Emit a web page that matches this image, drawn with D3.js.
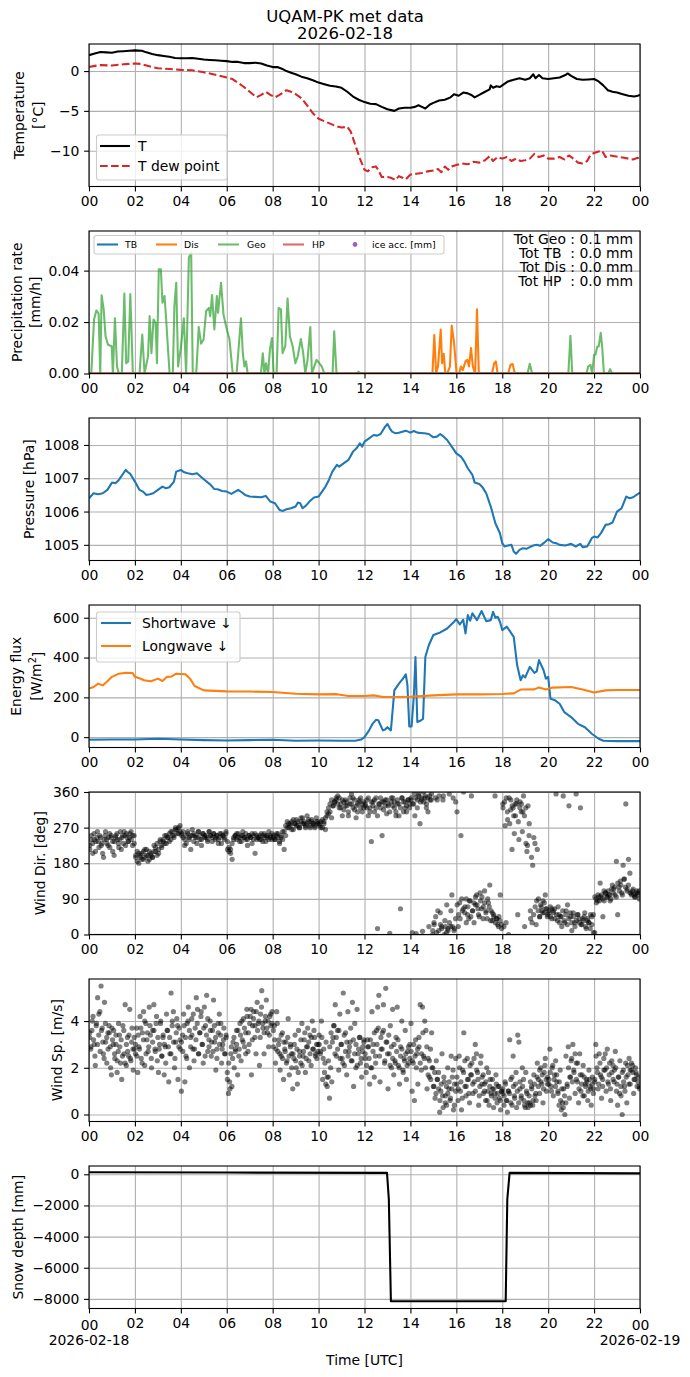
<!DOCTYPE html>
<html>
<head>
<meta charset="utf-8">
<script src="https://cdn.jsdelivr.net/npm/d3@7"></script>
<style>
body { margin: 0; background: #fff; }
text { font-family: "DejaVu Sans", sans-serif; fill: #000; }
.grid line { stroke: #b0b0b0; stroke-width: 1.1px; }
.grid path { display: none; }
.axis path { display: none; }
.axis line { stroke: #000; stroke-width: 1.1px; }
.axis text { font-family: "DejaVu Sans", sans-serif; font-size: 13.9px; fill: #000; }
</style>
</head>
<body>
<svg id="chart"></svg>
<script>
// Width and height of the figure
var width = 690, height = 1377;
var left = 89, right = 640, panelH = 142.5;
var panelTop = [44, 231, 418, 605, 792, 979, 1166];

// ---- data (hour of day, value) ----
var tempAir = [[0,2.0],[0.25,2.2],[0.5,2.4],[0.75,2.35],[1,2.3],[1.25,2.45],[1.5,2.5],[1.75,2.55],[2,2.6],[2.3,2.55],[2.5,2.35],[2.75,2.15],[3,2.0],[3.25,1.9],[3.5,1.8],[3.75,1.65],[4,1.6],[4.25,1.6],[4.5,1.65],[4.75,1.55],[5,1.45],[5.25,1.4],[5.5,1.35],[5.75,1.3],[6,1.25],[6.25,1.15],[6.5,1.15],[6.75,1.0],[7,1.0],[7.25,1.05],[7.5,0.95],[7.75,0.7],[8,0.5],[8.2,0.5],[8.4,0.3],[8.6,0.0],[8.8,-0.2],[9,-0.4],[9.25,-0.7],[9.5,-0.9],[9.75,-1.15],[10,-1.45],[10.25,-1.65],[10.5,-1.85],[10.75,-1.95],[11,-2.1],[11.25,-2.6],[11.5,-3.2],[11.75,-3.6],[12,-3.9],[12.25,-4.1],[12.5,-4.15],[12.75,-4.5],[13,-4.8],[13.3,-5.0],[13.5,-4.7],[13.75,-4.6],[14,-4.6],[14.2,-4.5],[14.35,-4.3],[14.5,-4.5],[14.65,-4.7],[14.85,-4.2],[15,-4.0],[15.25,-3.7],[15.5,-3.6],[15.75,-3.3],[15.9,-2.9],[16.1,-3.1],[16.3,-2.7],[16.5,-2.8],[16.65,-3.0],[16.8,-3.3],[17,-3.0],[17.25,-2.6],[17.45,-2.3],[17.5,-1.8],[17.6,-2.1],[17.75,-1.9],[17.9,-2.0],[18,-1.8],[18.25,-1.3],[18.5,-1.1],[18.75,-0.9],[19,-1.1],[19.2,-0.9],[19.35,-0.4],[19.45,-0.9],[19.6,-0.5],[19.75,-0.9],[20,-1.0],[20.25,-0.9],[20.5,-0.8],[20.75,-0.5],[20.85,-0.3],[21,-0.6],[21.25,-1.0],[21.5,-1.1],[21.75,-1.05],[22,-1.0],[22.2,-1.3],[22.4,-1.8],[22.6,-2.4],[22.8,-2.6],[23,-2.7],[23.25,-2.9],[23.5,-3.1],[23.75,-3.2],[23.9,-3.1],[24,-3.0]];

var tempDew = [[0,0.5],[0.25,0.65],[0.5,0.75],[1,0.7],[1.5,0.85],[2,0.95],[2.25,0.9],[2.5,0.7],[2.75,0.5],[3,0.35],[3.5,0.25],[4,0.15],[4.5,0.1],[5,-0.15],[5.5,-0.45],[6,-0.8],[6.25,-1.0],[6.5,-1.5],[6.75,-2.0],[7,-2.6],[7.3,-3.3],[7.5,-3.0],[7.7,-2.6],[7.9,-3.0],[8.1,-3.3],[8.3,-3.0],[8.6,-2.4],[8.8,-2.6],[9,-2.9],[9.25,-3.4],[9.5,-4.3],[9.75,-5.3],[10,-6.0],[10.25,-6.3],[10.5,-6.6],[10.75,-6.9],[11,-7.1],[11.25,-7.0],[11.4,-7.6],[11.6,-9.3],[11.8,-11.0],[12,-12.4],[12.15,-12.6],[12.3,-12.1],[12.5,-12.0],[12.6,-12.4],[12.75,-13.3],[13,-13.3],[13.15,-13.4],[13.35,-13.7],[13.5,-13.2],[13.65,-13.4],[13.8,-13.6],[14,-13.0],[14.25,-12.9],[14.5,-12.8],[14.75,-12.6],[15,-12.5],[15.2,-12.3],[15.35,-12.7],[15.5,-12.0],[15.65,-12.4],[15.8,-12.0],[16,-11.8],[16.25,-11.6],[16.5,-11.7],[16.75,-11.4],[17,-11.5],[17.25,-11.2],[17.45,-10.7],[17.6,-11.3],[17.8,-10.8],[18,-11.0],[18.2,-10.8],[18.4,-11.3],[18.6,-11.0],[18.8,-11.3],[19,-11.2],[19.2,-11.0],[19.4,-10.4],[19.6,-10.8],[19.8,-10.6],[20,-11.0],[20.25,-11.0],[20.5,-10.8],[20.7,-11.1],[20.9,-10.6],[21.1,-11.0],[21.3,-11.5],[21.5,-11.6],[21.7,-11.3],[21.85,-10.5],[22,-10.3],[22.2,-10.1],[22.35,-10.0],[22.5,-10.8],[22.7,-10.6],[22.9,-10.7],[23.1,-10.8],[23.3,-10.9],[23.5,-11.0],[23.7,-11.1],[23.9,-10.9],[24,-11.2]];

var precipTB = [[0,0],[24,0]];
var precipHP = [[0,0],[24,0]];
var precipDis = [[0,0],[14.96,0],[15.04,0.015],[15.12,0],[15.2,0.0027],[15.32,0.0171],[15.38,0.004],[15.45,0.0077],[15.52,0],[15.6,0],[15.72,0.0027],[15.8,0.0186],[15.9,0.012],[16.01,0],[16.12,0],[16.2,0.0027],[16.28,0.0013],[16.4,0.0047],[16.48,0.0053],[16.55,0.0027],[16.64,0.0099],[16.72,0.0027],[16.82,0],[16.9,0.025],[16.98,0],[17.55,0],[17.65,0.004],[17.72,0.0047],[17.8,0],[18.26,0],[18.36,0.0034],[18.45,0.0037],[18.55,0],[24,0]];
var precipGeo = [[0,0],[0.1,0],[0.22,0.021],[0.32,0.0245],[0.42,0.0233],[0.49,0],[0.55,0.0304],[0.64,0.0249],[0.72,0.0145],[0.83,0.0112],[0.99,0.0106],[1.04,0],[1.13,0.0215],[1.22,0.0027],[1.3,0],[1.43,0],[1.54,0.0311],[1.62,0.004],[1.71,0.0047],[1.8,0.0309],[1.91,0],[2.2,0],[2.32,0.0151],[2.42,0],[2.57,0.0066],[2.64,0.0223],[2.72,0.0079],[2.81,0.021],[2.9,0.0197],[2.96,0.004],[3.04,0.0405],[3.13,0.0405],[3.2,0.0275],[3.29,0.0301],[3.36,0.021],[3.51,0],[3.65,0],[3.72,0.0262],[3.8,0.0353],[3.88,0.0027],[4.01,0.0106],[4.13,0.0215],[4.23,0],[4.35,0.0451],[4.45,0.047],[4.52,0],[4.67,0],[4.78,0.0181],[4.88,0.0116],[4.99,0.0132],[5.1,0.0242],[5.22,0.0255],[5.28,0.0223],[5.36,0.0305],[5.46,0.0171],[5.57,0.0301],[5.62,0.0236],[5.75,0.0353],[5.86,0.0229],[5.97,0.0184],[6.12,0.0132],[6.26,0],[6.43,0],[6.62,0.0215],[6.7,0.0079],[6.77,0.0027],[6.84,0.0047],[6.91,0],[7.49,0],[7.57,0.0079],[7.64,0],[7.71,0.004],[7.8,0],[7.88,0.0093],[7.97,0.0138],[8.04,0],[8.17,0],[8.26,0.0255],[8.36,0.0249],[8.43,0.0079],[8.55,0.0106],[8.65,0.0291],[8.75,0.0145],[8.87,0.0106],[8.99,0.004],[9.09,0.0066],[9.23,0.0134],[9.33,0.0079],[9.42,0],[9.52,0.0053],[9.64,0.0181],[9.71,0],[9.81,0.0027],[9.91,0.0053],[10.03,0.004],[10.14,0.0027],[10.25,0],[10.61,0],[10.68,0.0164],[10.78,0],[11.66,0],[11.74,0.0007],[11.82,0],[19.1,0],[19.2,0.0038],[19.3,0],[20.88,0],[20.97,0.0147],[21.05,0],[21.67,0],[21.74,0.0027],[21.84,0.0034],[21.92,0],[22.0,0.0073],[22.06,0.0073],[22.14,0.0105],[22.2,0.0105],[22.29,0.0158],[22.35,0.0105],[22.43,0],[22.62,0],[22.7,0.0017],[22.78,0],[24,0]];
var precipTotals = ["Tot Geo : 0.1 mm", "Tot TB  : 0.0 mm", "Tot Dis : 0.0 mm", "Tot HP  : 0.0 mm"];

var pressure = [[0,1006.4],[0.2,1006.55],[0.4,1006.52],[0.6,1006.55],[0.8,1006.65],[1,1006.87],[1.15,1006.85],[1.3,1006.95],[1.5,1007.15],[1.6,1007.25],[1.7,1007.18],[1.8,1007.13],[2,1006.9],[2.2,1006.65],[2.35,1006.6],[2.5,1006.5],[2.65,1006.52],[2.8,1006.55],[3,1006.65],[3.2,1006.75],[3.35,1006.7],[3.5,1006.73],[3.7,1006.9],[3.8,1007.2],[4,1007.25],[4.15,1007.18],[4.3,1007.15],[4.5,1007.12],[4.7,1007.15],[5,1006.97],[5.3,1006.8],[5.45,1006.68],[5.6,1006.67],[5.8,1006.62],[6,1006.6],[6.2,1006.53],[6.5,1006.65],[6.65,1006.58],[6.8,1006.5],[7,1006.45],[7.25,1006.44],[7.5,1006.43],[7.7,1006.47],[7.9,1006.3],[8.1,1006.25],[8.3,1006.05],[8.45,1006.02],[8.6,1006.07],[8.8,1006.1],[9,1006.15],[9.1,1006.27],[9.2,1006.25],[9.3,1006.1],[9.45,1006.18],[9.6,1006.3],[9.8,1006.42],[10,1006.45],[10.15,1006.6],[10.3,1006.75],[10.45,1006.95],[10.6,1007.2],[10.8,1007.4],[10.9,1007.35],[11,1007.4],[11.3,1007.55],[11.5,1007.8],[11.65,1007.9],[11.8,1008.05],[11.9,1007.95],[12,1008.1],[12.2,1008.2],[12.4,1008.3],[12.55,1008.28],[12.7,1008.33],[12.9,1008.55],[13,1008.63],[13.1,1008.5],[13.2,1008.4],[13.35,1008.35],[13.5,1008.37],[13.65,1008.4],[13.8,1008.43],[14,1008.37],[14.15,1008.42],[14.3,1008.37],[14.45,1008.36],[14.6,1008.35],[14.8,1008.33],[15,1008.23],[15.15,1008.25],[15.3,1008.33],[15.45,1008.25],[15.6,1008.15],[15.8,1007.95],[16,1007.75],[16.2,1007.65],[16.35,1007.5],[16.5,1007.3],[16.7,1007.1],[16.8,1006.87],[17,1006.83],[17.15,1006.72],[17.3,1006.55],[17.5,1006.15],[17.7,1005.65],[17.9,1005.35],[18,1005.05],[18.1,1004.95],[18.2,1004.97],[18.4,1005.0],[18.5,1004.8],[18.6,1004.73],[18.75,1004.85],[18.9,1004.9],[19.05,1004.88],[19.2,1004.93],[19.35,1004.98],[19.5,1005.0],[19.65,1004.97],[19.8,1005.05],[20,1005.17],[20.2,1005.07],[20.35,1005.05],[20.5,1005.0],[20.75,1004.98],[21,1005.03],[21.2,1004.95],[21.4,1005.03],[21.5,1004.93],[21.7,1004.95],[21.9,1005.2],[22,1005.25],[22.15,1005.22],[22.3,1005.35],[22.5,1005.6],[22.65,1005.62],[22.8,1005.67],[23,1006.0],[23.2,1006.1],[23.4,1006.45],[23.55,1006.4],[23.7,1006.43],[23.85,1006.5],[24,1006.57]];

var shortwave = [[0,-13],[1,-12],[2,-12],[3,-8],[4,-12],[5,-15],[6,-17],[7,-15],[8,-13],[9,-18],[10,-17],[11,-18],[11.6,-18],[11.85,-12],[12,0],[12.2,34],[12.35,67],[12.5,87],[12.6,85],[12.7,60],[12.8,34],[12.9,38],[13,50],[13.15,34],[13.3,235],[13.5,269],[13.65,290],[13.8,316],[13.87,260],[13.95,54],[14.05,54],[14.15,210],[14.22,403],[14.3,76],[14.45,84],[14.55,92],[14.65,403],[14.8,462],[15,513],[15.3,526],[15.6,546],[15.9,580],[16,593],[16.15,566],[16.3,590],[16.4,521],[16.5,613],[16.6,585],[16.7,622],[16.9,588],[17.1,634],[17.3,583],[17.5,588],[17.6,630],[17.7,600],[17.8,605],[17.9,580],[18,538],[18.2,555],[18.5,504],[18.65,361],[18.8,286],[18.9,311],[19,300],[19.2,353],[19.4,323],[19.5,330],[19.6,387],[19.8,336],[19.9,294],[20,303],[20.1,193],[20.3,185],[20.5,168],[20.7,126],[21,101],[21.3,67],[21.6,50],[21.9,17],[22.2,-8],[22.4,-18],[23,-20],[24,-20]];
var longwave = [[0,244],[0.2,252],[0.4,269],[0.6,260],[0.8,281],[1,303],[1.3,319],[1.6,324],[1.9,322],[2,303],[2.2,296],[2.4,286],[2.7,281],[3,294],[3.2,282],[3.4,303],[3.6,305],[3.8,319],[4.2,316],[4.4,294],[4.6,257],[5,235],[6,230],[7,229],[8,227],[9,218],[10,215],[10.8,216],[11.3,207],[12,207],[12.4,210],[12.8,202],[14,203],[15,210],[16,215],[17,215],[18,217],[18.5,220],[18.8,239],[19.4,240],[19.6,250],[19.9,240],[20.2,249],[21,252],[21.5,239],[22,224],[22.5,235],[23,237],[24,237]];

// wind samples, one list per 2-hour block (00-02, 02-04, ... 22-24)
var windDirBlocks = [
  [215,240,230,255,210,245,235,250,225,205,240,260,230,245,220,250,235,200,245,255,230,240,215,250,260,225,245,235,255,240,250,230],
  [195,185,205,200,190,210,195,215,200,190,205,195,210,220,200,215,235,225,240,230,250,245,235,260,250,245,265,255,270,260],
  [255,245,225,250,260,240,215,250,255,245,230,260,250,240,255,245,250,235,260,250,245,255,240,250,230,245,255,250,240,260],
  [235,210,215,190,240,250,255,245,235,250,260,245,240,225,250,245,255,240,205,250,245,240,255,250,245,235,250,260,245,240],
  [245,240,250,255,235,245,260,215,250,270,280,275,285,265,280,290,275,270,285,295,280,275,300,285,270,290,280,275,285,280],
  [280,270,290,285,265,300,305,310,295,325,335,340,330,345,320,300,335,340,325,310,330,355,345,315,295,330,340,320,310,335],
  [325,340,300,320,235,335,310,345,15,330,320,250,335,340,305,325,3,335,345,320,310,330,300,65,345,335,320,310,340,330],
  [345,5,330,300,2,340,355,280,345,8,335,350,320,345,20,340,355,10,30,345,5,60,350,25,15,340,0,20,75,10,355,20,100,345,15,335],
  [310,20,80,250,60,360,70,90,50,40,85,350,60,30,75,100,65,45,85,95,70,110,55,40,80,125,60,35,50,350,40,25,45,100,15],
  [330,20,275,345,310,0,280,340,215,320,255,300,330,50,240,335,310,260,350,20,320,210,325,280,60,195,175,245,230,25,215,90,45,75,60,85,55,100,65,50],
  [55,70,40,60,65,355,35,50,45,20,350,30,60,75,325,45,10,55,30,355,50,40,320,25,35,55,15,40,30,50,25,5],
  [5,90,85,95,130,100,45,85,105,95,110,100,90,125,115,100,185,50,120,135,105,175,140,330,115,190,155,105,110,100,95,110,105,90]
];
var windDirBlocks2 = [
  [225,250,205,240,235,260,220,245,230,195,250,240,225,255,245,210,235,250,240,220,260,245,230,250,255,235,245,260,225,250],
  [200,210,180,195,205,190,215,200,185,210,200,195,225,210,230,205,240,220,235,250,230,245,255,240,260,250,270,265,255,275],
  [250,260,240,230,255,245,250,265,235,250,245,260,240,225,255,250,245,240,260,250,235,255,245,250,240,255,230,250,245,255],
  [215,220,205,230,245,250,240,255,245,235,250,245,255,240,250,245,230,250,255,240,245,250,240,235,255,250,245,240,250,255],
  [250,240,255,245,230,250,240,260,275,285,270,280,265,290,280,275,285,270,295,280,285,270,280,290,275,285,280,270,295,285],
  [275,285,270,280,295,310,320,330,340,325,335,345,350,320,330,340,315,325,335,300,345,330,320,340,325,310,335,345,330,320],
  [330,320,345,310,335,325,340,320,300,330,345,335,315,325,340,330,310,345,325,335,300,340,330,320,345,310,335,325,340,320],
  [340,330,355,345,320,350,335,340,360,345,330,310,350,340,0,25,45,340,10,55,20,350,35,5,15,30,60,20,10,40],
  [75,50,40,90,65,55,30,70,85,45,60,80,95,75,50,105,65,40,80,60,90,70,35,55,45,30,40,20,35,25],
  [320,335,30,290,345,315,325,300,330,340,285,320,330,310,300,230,225,250,40,30,50,70,85,60,45,70,55,80,65,45],
  [60,45,65,55,40,50,70,30,45,60,35,50,25,40,55,30,45,20,35,50,30,25,40,45,20,35,30,15,45,50],
  [95,80,100,85,95,90,110,105,95,100,85,115,105,120,95,130,110,125,100,140,120,110,125,105,100,115,95,105,100,110]
];
var windSpBlocks = [
  [3.3,2.8,3.6,4.2,3.0,2.1,3.9,5.0,3.4,4.4,5.5,3.7,2.6,4.8,3.1,2.2,3.5,3.8,2.9,1.7,3.2,3.6,2.4,3.0,1.8,2.7,3.4,2.2,1.5,3.8,2.6,4.7,2.1,3.3,2.5,4.5,2.3,3.7,1.9,2.8],
  [2.6,3.7,1.8,2.9,4.2,2.4,3.5,4.4,2.1,3.9,3.2,2.7,4.6,3.4,2.0,3.6,4.7,2.8,3.9,2.3,1.8,3.0,4.0,2.5,3.3,1.7,2.9,4.3,3.6,1.4,2.6,5.2,3.8,4.4,2.0,3.1,4.1,1.5,3.7,2.8],
  [1.0,3.4,4.3,1.4,2.5,3.9,4.6,2.0,3.3,4.1,2.8,2.3,3.7,5.0,4.5,2.6,3.5,4.2,3.0,2.2,4.6,3.8,5.1,2.7,3.2,4.0,2.5,3.6,4.9,3.1,1.9,2.8,3.9,4.3,3.4,2.2,3.0,3.7,2.6,3.3],
  [1.8,0.9,1.4,2.6,1.2,3.1,2.0,2.8,3.6,1.7,2.5,3.9,2.3,3.2,4.1,2.9,3.5,4.5,2.7,3.0,4.2,1.7,3.8,4.4,3.3,2.6,4.8,3.9,2.1,4.3,5.3,3.7,2.6,4.0,4.9,3.5,2.9,4.2,3.8,4.4],
  [2.9,3.8,2.2,4.4,2.7,3.2,1.9,2.5,3.5,1.5,2.8,3.1,2.3,4.1,1.7,3.0,2.6,1.1,2.4,3.4,2.0,1.3,3.6,2.7,2.2,3.9,2.5,3.2,1.8,2.9,3.7,2.3,3.4,2.1,4.0,2.8,3.3,2.6,2.4,3.0],
  [3.4,2.6,4.0,1.5,2.8,2.2,3.1,1.2,1.6,0.7,2.0,1.4,3.3,3.8,4.7,2.5,3.6,1.9,4.3,3.0,2.4,5.2,2.1,3.5,1.7,4.4,2.7,3.1,2.3,4.8,1.2,3.9,2.0,4.5,2.6,3.3,2.2,1.6,2.9,3.2],
  [2.4,1.8,3.2,2.9,1.3,2.0,4.4,3.0,1.6,2.5,3.6,4.6,5.1,1.4,2.8,3.5,4.7,2.2,5.4,3.1,1.1,2.6,3.8,2.0,4.5,1.7,2.3,3.3,4.6,2.1,1.3,2.9,4.0,1.9,2.4,3.6,1.5,2.7,2.2,3.0],
  [3.9,1.0,2.2,0.6,3.2,2.6,1.3,2.9,4.7,1.9,4.6,2.5,4.0,3.6,1.1,2.4,1.6,2.8,3.5,2.0,1.2,0.7,2.3,1.5,1.8,0.1,1.0,2.6,0.3,1.4,0.8,0.4,2.0,1.1,0.6,2.5,1.6,0.2,1.3,2.4],
  [1.3,0.6,2.5,1.0,0.2,1.9,3.5,1.2,0.8,2.4,1.5,0.5,1.7,2.2,0.9,1.4,3.0,2.6,1.8,0.4,1.2,2.5,1.6,0.9,1.3,0.6,2.0,1.0,0.4,1.5,0.8,1.1,0.3,0.9,1.7,0.5,1.2,0.7,0.2,1.0],
  [0.9,0.4,1.4,0.6,0.1,1.0,3.2,0.5,1.6,2.5,0.8,1.3,0.3,3.4,3.1,1.1,0.7,2.0,1.5,0.4,1.8,0.9,0.3,0.5,1.4,1.2,0.4,1.7,0.8,0.6,2.2,1.5,0.9,2.0,1.3,0.5,1.8,2.4,1.0,1.6],
  [1.5,2.8,1.2,2.0,0.8,1.7,2.3,1.4,1.0,0.4,1.9,0.2,0.5,1.1,0.0,2.5,1.3,2.9,0.7,1.6,2.4,3.0,1.8,0.9,2.2,1.4,0.5,2.6,1.0,1.7,2.1,0.8,1.3,1.5,0.6,1.9,1.2,0.4,1.6,1.1],
  [1.4,3.0,2.0,1.1,2.6,1.7,0.7,1.5,2.4,1.9,1.0,2.8,1.3,2.2,0.6,1.8,2.1,1.4,2.7,1.0,0.4,1.6,2.3,0.8,0.0,1.9,1.2,2.2,0.5,1.7,2.4,1.3,1.9,2.1,0.9,1.5,1.8,1.2,1.6,1.1]
];
var windSpBlocks2 = [
  [3.5,2.9,4.0,3.2,2.5,3.8,3.0,4.3,2.7,3.6,3.1,2.4,3.9,3.3,2.8,3.5,2.0,3.7,3.0,2.6,3.4,2.3,3.9,2.9,3.2,2.5,3.6,2.2,3.0,2.7,3.4,2.4,3.1,2.8,3.3],
  [3.0,2.5,3.4,2.8,3.7,2.2,3.2,4.0,2.6,3.5,2.9,3.8,2.4,3.1,3.6,2.7,4.2,3.3,2.8,3.9,2.5,3.4,3.0,2.2,3.6,2.9,3.3,2.6,4.0,3.1,2.4,3.5,3.8,2.9,3.2],
  [3.1,2.7,3.8,3.3,2.4,4.0,3.6,2.9,3.4,4.3,2.8,3.2,3.9,2.6,3.5,4.4,3.0,3.7,2.5,3.4,4.1,2.9,3.6,3.1,2.7,3.8,3.3,2.4,3.5,3.0,3.9,2.8,3.2,2.6,3.4],
  [1.5,2.2,1.1,2.9,2.4,3.3,2.7,3.0,3.6,2.8,3.4,4.0,3.1,3.7,2.6,4.2,3.5,3.9,4.5,3.2,4.1,3.8,4.4,3.6,4.0,3.3,4.6,3.9,3.5,4.2,3.7,4.0,3.4,4.3,3.9],
  [3.6,3.2,2.8,3.9,3.0,2.6,3.4,2.4,3.1,2.7,2.2,3.3,2.5,2.9,2.0,2.6,3.0,2.3,2.8,1.8,2.5,3.2,2.1,2.7,3.5,2.4,2.9,3.1,2.6,3.3,2.8,3.6,2.5,3.0,2.7],
  [3.0,2.7,3.3,2.4,1.8,1.3,1.6,2.3,2.9,3.5,3.1,3.8,2.6,3.3,2.8,3.6,2.4,3.0,2.2,3.4,2.7,3.1,2.5,2.9,3.7,2.3,3.2,2.6,3.0,2.1,2.8,3.3,2.4,2.7,3.1],
  [2.6,2.1,2.9,2.4,3.2,2.0,2.7,3.5,2.2,3.0,3.7,2.5,3.3,2.8,3.6,2.3,3.1,2.6,3.4,2.1,2.9,2.4,3.0,2.2,2.7,3.2,2.0,2.5,2.8,1.8,2.3,2.6,2.1,2.9,2.4],
  [2.7,2.3,3.0,2.5,2.0,2.8,3.3,2.2,2.6,3.5,2.4,2.0,2.9,1.7,2.3,1.5,2.0,1.2,1.8,0.9,1.5,1.1,0.6,1.3,0.8,1.6,0.5,1.2,0.9,1.4,0.7,1.1,1.9,0.4,1.0],
  [1.6,1.1,2.0,1.4,0.7,1.8,2.3,1.2,1.5,0.9,2.1,1.7,1.3,2.4,1.0,1.9,1.5,0.8,2.2,1.3,1.7,1.0,1.4,0.6,1.8,1.2,0.9,1.5,1.1,0.7,1.3,0.9,1.2,0.6,1.0],
  [1.1,0.8,1.3,0.6,1.0,0.9,1.5,0.4,1.2,0.7,1.8,1.0,0.5,1.4,0.8,1.2,0.6,0.3,1.0,0.5,0.8,0.4,1.1,0.6,1.3,0.9,1.6,1.2,1.9,1.4,1.7,1.1,2.1,1.5,1.3],
  [1.3,1.8,1.0,2.1,1.5,1.2,1.7,0.9,1.4,0.6,1.1,0.3,0.8,0.5,1.2,2.0,1.6,2.3,1.4,1.9,2.6,1.5,2.2,1.1,1.7,1.3,0.8,1.6,1.2,1.4,1.0,1.5,1.1,1.3,0.9],
  [1.5,2.5,1.8,1.3,2.2,1.6,1.2,1.9,2.6,2.0,1.4,1.7,1.1,2.3,1.5,1.9,2.0,1.3,1.6,0.9,1.2,1.8,1.4,1.0,1.6,2.1,1.3,1.9,2.2,1.8,1.5,2.0,1.7,1.4,1.2]
];

var snowDepth = [[0,130],[6,110],[12.98,90],[13.06,-1600],[13.15,-8150],[18.15,-8150],[18.22,-1600],[18.32,90],[24,60]];

var hourTicks = d3.range(0, 25, 2);

var svg = d3.select("#chart")
    .attr("width", width)
    .attr("height", height)
    .attr("viewBox", [0, 0, width, height]);

svg.append("rect").attr("width", width).attr("height", height).attr("fill", "#fff");

var x = d3.scaleLinear().domain([0, 24]).range([left, right]);

// title
svg.append("text").attr("x", 345).attr("y", 21.5).attr("text-anchor", "middle")
    .style("font-size", "16.5px").text("UQAM-PK met data");
svg.append("text").attr("x", 345).attr("y", 39).attr("text-anchor", "middle")
    .style("font-size", "16.5px").text("2026-02-18");

function makePanel(i, domain, yTicks, yFormat) {
    var top = panelTop[i], bottom = top + panelH;
    var y = d3.scaleLinear().domain(domain).range([bottom, top]);

    svg.append("clipPath").attr("id", "clip" + i)
        .append("rect")
        .attr("x", left).attr("y", top)
        .attr("width", right - left).attr("height", panelH);

    var g = svg.append("g");

    g.append("g").attr("class", "grid")
        .attr("transform", "translate(0," + bottom + ")")
        .call(d3.axisBottom(x).tickValues(hourTicks).tickSize(-panelH).tickFormat(""));
    g.append("g").attr("class", "grid")
        .attr("transform", "translate(" + left + ",0)")
        .call(d3.axisLeft(y).tickValues(yTicks).tickSize(-(right - left)).tickFormat(""));

    var plot = g.append("g").attr("clip-path", "url(#clip" + i + ")");
    var over = g.append("g");

    over.append("rect")
        .attr("x", left).attr("y", top)
        .attr("width", right - left).attr("height", panelH)
        .attr("fill", "none").attr("stroke", "#000").attr("stroke-width", 1.1);

    var xAxis = over.append("g").attr("class", "axis")
        .attr("transform", "translate(0," + bottom + ")")
        .call(d3.axisBottom(x).tickValues(hourTicks).tickSizeOuter(0).tickSize(4.9).tickPadding(4.7)
            .tickFormat(function(d) { return d3.format("02d")(d % 24); }));

    over.append("g").attr("class", "axis")
        .attr("transform", "translate(" + left + ",0)")
        .call(d3.axisLeft(y).tickValues(yTicks).tickSizeOuter(0).tickSize(4.9).tickPadding(4.7)
            .tickFormat(yFormat));

    return { y: y, plot: plot, over: over, top: top, bottom: bottom, xAxis: xAxis };
}

function drawLine(p, data, color, opts) {
    opts = opts || {};
    var line = d3.line()
        .x(function(d) { return x(d[0]); })
        .y(function(d) { return p.y(d[1]); });
    return p.plot.append("path")
        .datum(data)
        .attr("d", line)
        .attr("fill", "none")
        .attr("stroke", color)
        .attr("stroke-width", opts.width || 2.08)
        .attr("stroke-opacity", opts.opacity || 1)
        .attr("stroke-dasharray", opts.dash || null)
        .attr("stroke-linejoin", "round");
}

function drawDots(p, data) {
    p.plot.append("g").selectAll("circle")
        .data(data)
        .enter().append("circle")
        .attr("cx", function(d) { return x(d[0]); })
        .attr("cy", function(d) { return p.y(d[1]); })
        .attr("r", 2.6)
        .attr("fill", "#000")
        .attr("fill-opacity", 0.5);
}

// spread each block's samples evenly over its 2 hours
function blockPoints(blocks) {
    var pts = [];
    blocks.forEach(function(vals, b) {
        vals.forEach(function(v, k) {
            pts.push([b * 2 + (k + 0.5) * 2 / vals.length, v]);
        });
    });
    return pts;
}

function yLabel(p, lines, xs) {
    var cy = p.top + panelH / 2;
    lines.forEach(function(t, k) {
        var txt = svg.append("text")
            .attr("transform", "translate(" + xs[k] + "," + cy + ") rotate(-90)")
            .attr("text-anchor", "middle")
            .attr("dominant-baseline", "central")
            .style("font-size", "13.9px");
        if (typeof t === "string") {
            txt.text(t);
        } else {
            t.forEach(function(part) {
                txt.append("tspan")
                    .attr("dy", part.dy || 0)
                    .style("font-size", part.size || null)
                    .text(part.text);
            });
        }
    });
}

function legendBox(p, x0, y0, w, h) {
    p.over.append("rect")
        .attr("x", x0).attr("y", y0).attr("width", w).attr("height", h)
        .attr("rx", 2.5)
        .attr("fill", "#fff").attr("fill-opacity", 0.8)
        .attr("stroke", "#cccccc").attr("stroke-width", 1.1);
}

var fmtInt = d3.format("d");

// ---- 1: temperature ----
var p1 = makePanel(0, [-14.5, 3.4], [-10, -5, 0], fmtInt);
drawLine(p1, tempAir, "#000");
drawLine(p1, tempDew, "#d62728", { dash: "7.7,3.3" });
yLabel(p1, ["Temperature", "[°C]"], [19, 37.7]);
legendBox(p1, 96.5, 135, 130.5, 45);
var tLegend = [
    { label: "T", color: "#000", dash: null, y: 146 },
    { label: "T dew point", color: "#d62728", dash: "7.7,3.3", y: 166 }
];
tLegend.forEach(function(d) {
    p1.over.append("line").attr("x1", 100).attr("x2", 130).attr("y1", d.y).attr("y2", d.y)
        .attr("stroke", d.color).attr("stroke-width", 2.08).attr("stroke-dasharray", d.dash);
    p1.over.append("text").attr("x", 138).attr("y", d.y + 5).style("font-size", "13.9px").text(d.label);
});

// ---- 2: precipitation ----
var p2 = makePanel(1, [0, 0.0554], [0, 0.02, 0.04], d3.format(".2f"));
drawLine(p2, precipTB, "#1f77b4");
drawLine(p2, precipDis, "#ff7f0e");
drawLine(p2, precipGeo, "#2ca02c", { opacity: 0.7 });
drawLine(p2, precipHP, "#d62728", { opacity: 0.7 });
yLabel(p2, ["Precipitation rate", "[mm/h]"], [17, 35]);
legendBox(p2, 94, 235.5, 350, 18.5);
var pLegend = [
    { label: "TB", color: "#1f77b4", op: 1, lx: 97, tx: 125 },
    { label: "Dis", color: "#ff7f0e", op: 1, lx: 156, tx: 184 },
    { label: "Geo", color: "#2ca02c", op: 0.7, lx: 218, tx: 247 },
    { label: "HP", color: "#d62728", op: 0.7, lx: 283, tx: 312 }
];
pLegend.forEach(function(d) {
    p2.over.append("line").attr("x1", d.lx).attr("x2", d.lx + 21).attr("y1", 244.5).attr("y2", 244.5)
        .attr("stroke", d.color).attr("stroke-opacity", d.op).attr("stroke-width", 2.08);
    p2.over.append("text").attr("x", d.tx).attr("y", 248).style("font-size", "9.3px").text(d.label);
});
p2.over.append("circle").attr("cx", 355).attr("cy", 244.5).attr("r", 2.4).attr("fill", "#9467bd");
p2.over.append("text").attr("x", 372).attr("y", 248).style("font-size", "9.3px").text("ice acc. [mm]");
p2.over.selectAll(".tot").data(precipTotals).enter().append("text")
    .attr("class", "tot")
    .attr("x", 633)
    .attr("y", function(d, k) { return 244 + k * 14; })
    .attr("text-anchor", "end")
    .style("white-space", "pre")
    .style("font-size", "13.9px")
    .text(function(d) { return d; });

// ---- 3: pressure ----
var p3 = makePanel(2, [1004.53, 1008.81], [1005, 1006, 1007, 1008], fmtInt);
drawLine(p3, pressure, "#1f77b4");
yLabel(p3, ["Pressure [hPa]"], [29]);

// ---- 4: energy flux ----
var p4 = makePanel(3, [-52, 664], [0, 200, 400, 600], fmtInt);
drawLine(p4, shortwave, "#1f77b4");
drawLine(p4, longwave, "#ff7f0e");
yLabel(p4, ["Energy flux", [{ text: "[W/m" }, { text: "2", dy: "-0.45em", size: "9.7px" }, { text: "]", dy: "0.45em" }]], [15.6, 36.4]);
legendBox(p4, 96.5, 612, 143.5, 50);
var eLegend = [
    { label: "Shortwave \u2193", color: "#1f77b4", y: 623 },
    { label: "Longwave \u2193", color: "#ff7f0e", y: 646 }
];
eLegend.forEach(function(d) {
    p4.over.append("line").attr("x1", 101).attr("x2", 131).attr("y1", d.y).attr("y2", d.y)
        .attr("stroke", d.color).attr("stroke-width", 2.08);
    p4.over.append("text").attr("x", 142).attr("y", d.y + 5).style("font-size", "13.9px")
        .style("white-space", "pre").text(d.label);
});

// ---- 5: wind direction ----
var p5 = makePanel(4, [0, 360], [0, 90, 180, 270, 360], fmtInt);
drawDots(p5, blockPoints(windDirBlocks).concat(blockPoints(windDirBlocks2)));
yLabel(p5, ["Wind Dir. [deg]"], [40]);

// ---- 6: wind speed ----
var p6 = makePanel(5, [-0.3, 5.8], [0, 2, 4], fmtInt);
drawDots(p6, blockPoints(windSpBlocks).concat(blockPoints(windSpBlocks2)));
yLabel(p6, ["Wind Sp. [m/s]"], [57]);

// ---- 7: snow depth ----
var p7 = makePanel(6, [-8617, 532], [-8000, -6000, -4000, -2000, 0], fmtInt);
drawLine(p7, snowDepth, "#000");
yLabel(p7, ["Snow depth [mm]"], [17.8]);

// day labels under the first and last tick of the bottom panel
p7.xAxis.selectAll(".tick text")
    .filter(function(d) { return d === 0 || d === 24; })
    .attr("y", 11.2);
var dayLabels = [[0, "2026-02-18"], [24, "2026-02-19"]];
svg.selectAll(".daylbl").data(dayLabels).enter().append("text")
    .attr("class", "daylbl")
    .attr("x", function(d) { return x(d[0]); })
    .attr("y", p7.bottom + 36)
    .attr("text-anchor", "middle")
    .style("font-size", "13.9px")
    .text(function(d) { return d[1]; });
svg.append("text")
    .attr("x", (left + right) / 2)
    .attr("y", p7.bottom + 56)
    .attr("text-anchor", "middle")
    .style("font-size", "13.9px")
    .text("Time [UTC]");
</script>
</body>
</html>
